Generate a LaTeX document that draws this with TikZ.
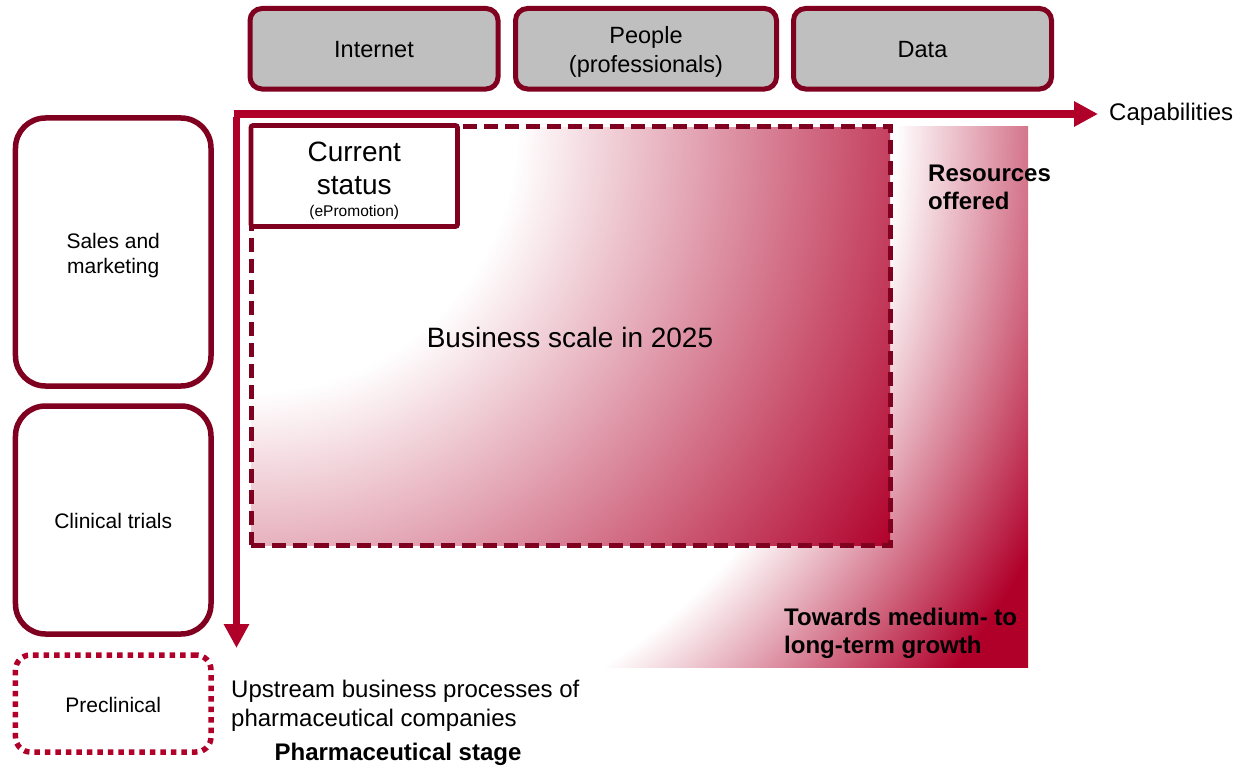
\documentclass[tikz,border=0pt]{standalone}
\usepackage{fontspec}
\setmainfont{Liberation Sans}
\usetikzlibrary{arrows.meta}
\definecolor{crim}{RGB}{176,0,42}
\definecolor{darkmaroon}{RGB}{128,0,32}
\definecolor{boxgray}{RGB}{191,191,191}
\newcommand\fsz[2]{\fontsize{#1bp}{#2bp}\selectfont}
\pgfdeclareradialshading{outerfade}{\pgfpoint{0bp}{0bp}}{color(0bp)=(white); color(645bp)=(white); color(890bp)=(crim); color(1000bp)=(crim)}
\pgfdeclareradialshading{innerfade}{\pgfpoint{0bp}{0bp}}{color(0bp)=(white); color(265bp)=(white); color(766bp)=(crim); color(800bp)=(crim)}
\tikzset{
  topbox/.style={draw=darkmaroon, fill=boxgray, line width=5bp, rounded corners=12bp},
  sidebox/.style={draw=darkmaroon, line width=5.5bp, rounded corners=30bp},
  dotbox/.style={draw=crim, line width=5.5bp, dash pattern=on 5.5bp off 5bp, rounded corners=15bp},
  bizbox/.style={draw=darkmaroon, line width=5bp, dash pattern=on 14bp off 7bp},
  csbox/.style={draw=darkmaroon, fill=white, line width=4.7bp, rounded corners=2bp},
  axisarrow/.style={draw=crim, line width=7bp, -{Triangle[length=24bp,width=24bp]}},
  boxtext/.style={inner sep=0, align=center},
  plain/.style={inner sep=0, font=\fsz{24}{29}, align=left},
  boldtxt/.style={inner sep=0, font=\fsz{24}{28}\bfseries, align=left},
}
\begin{document}
\begin{tikzpicture}[x=1bp, y=-1bp]
\useasboundingbox (0,0) rectangle (1253,767);
% gradient regions
\begin{scope}
  \clip (250,126) rectangle (1028,667);
  \node[inner sep=0, outer sep=0] (outerglow) at (250,126) {\pgfuseshading{outerfade}};
\end{scope}
\begin{scope}
  \clip (251.5,127) rectangle (890,545);
  \node[inner sep=0, outer sep=0] (innerglow) at (251.5,127) {\pgfuseshading{innerfade}};
\end{scope}
\node[bizbox, minimum width=638.5bp, minimum height=418bp] (biz) at (570.75,336) {};
\node[boxtext, font=\fsz{28}{33}] (biztext) at (570,337) {Business scale in 2025};
% current status
\node[csbox, minimum width=206.5bp, minimum height=101bp] (cs) at (354.25,176) {};
\node[anchor=base, font=\fsz{28}{33}] (cur) at (354.25,161) {Current};
\node[anchor=base, font=\fsz{28}{33}] (sta) at (354.25,194) {status};
\node[anchor=base, font=\fsz{15.5}{18}] (epr) at (354.25,216) {(ePromotion)};
% top boxes
\node[topbox, minimum width=248bp, minimum height=80.5bp] (internet) at (374,48.75) {};
\node[topbox, minimum width=261bp, minimum height=80.5bp] (people) at (646,48.75) {};
\node[topbox, minimum width=258bp, minimum height=80.5bp] (data) at (922.5,48.75) {};
\node[boxtext, font=\fsz{23.5}{29.5}] (internettext) at (374,50) {Internet};
\node[boxtext, font=\fsz{23.5}{29.5}] (peopletext) at (646,52) {People\\(professionals)};
\node[boxtext, font=\fsz{23.5}{29.5}] (datatext) at (922.5,50) {Data};
% side boxes
\node[sidebox, minimum width=195.5bp, minimum height=268bp] (sales) at (113.25,252) {};
\node[sidebox, minimum width=195.5bp, minimum height=228bp] (clinical) at (113.25,520) {};
\node[dotbox, minimum width=195.5bp, minimum height=97bp] (preclinical) at (113.25,703.5) {};
\node[boxtext, font=\fsz{21}{25}] (salestext) at (113.25,255.5) {Sales and\\marketing};
\node[boxtext, font=\fsz{21}{25}] (clinicaltext) at (113.25,521) {Clinical trials};
\node[boxtext, font=\fsz{21}{25}] (preclinicaltext) at (113.25,705) {Preclinical};
% axes
\coordinate (hstart) at (234,114);
\coordinate (htip) at (1098,114);
\coordinate (vstart) at (236.5,117);
\coordinate (vtip) at (236.5,648);
\draw[axisarrow] (hstart) -- (htip);
\draw[axisarrow] (vstart) -- (vtip);
% labels
\node[plain, anchor=west] (cap) at (1109,114) {Capabilities};
\node[boldtxt, anchor=west] (res) at (928,187) {Resources\\offered};
\node[boldtxt, anchor=west] (tow) at (784,633) {Towards medium- to\\long-term growth};
\node[plain, anchor=west] (up) at (231,706) {Upstream business processes of\\pharmaceutical companies};
\node[boldtxt] (stage) at (398,754) {Pharmaceutical stage};
\end{tikzpicture}
\end{document}
